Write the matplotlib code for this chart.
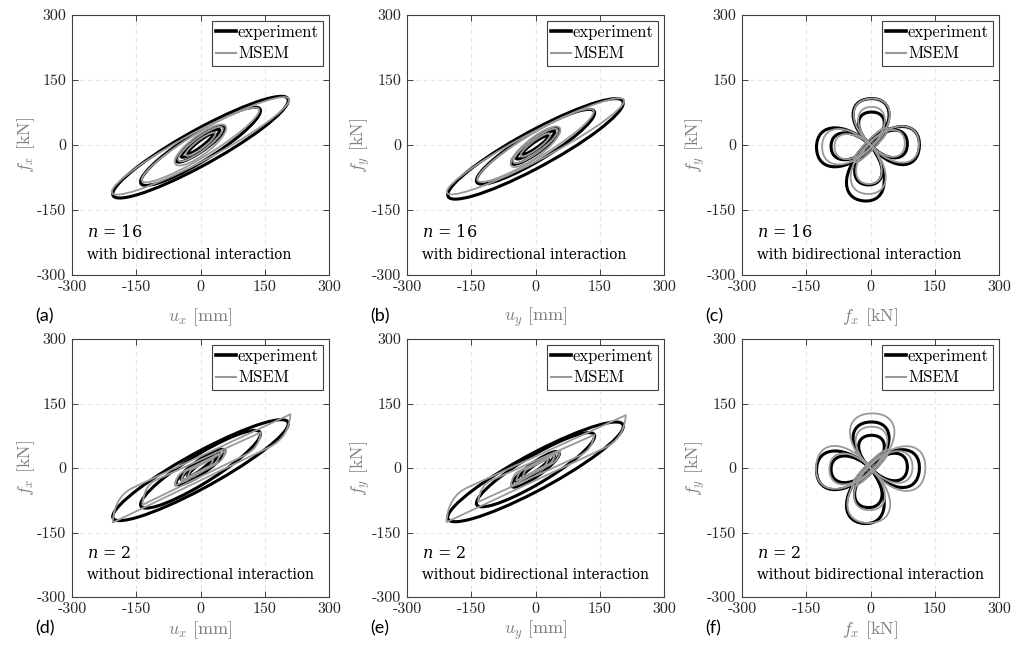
import matplotlib
matplotlib.use('Agg')
import numpy as np
import matplotlib.pyplot as plt
from matplotlib.patches import Circle, Ellipse, PathPatch
from matplotlib.path import Path
from matplotlib.transforms import Affine2D
from matplotlib.lines import Line2D

plt.rcParams['mathtext.fontset'] = 'cm'
plt.rcParams['font.family'] = 'cmr10'
plt.rcParams['axes.formatter.use_mathtext'] = True

# ---------------- data ----------------
ticks = [-300, -150, 0, 150, 300]
tick_labels = ['-300', '-150', '0', '150', '300']
panel_tags = ['(a)', '(b)', '(c)', '(d)', '(e)', '(f)']
x_labels = [r'$u_x$ [mm]', r'$u_y$ [mm]', r'$f_x$ [kN]']
y_labels = [r'$f_x$ [kN]', r'$f_y$ [kN]', r'$f_y$ [kN]']
n_labels = [r'$n$ = 16', r'$n$ = 2']
case_labels = ['with bidirectional interaction', 'without bidirectional interaction']
series_names = ['experiment', 'MSEM']

# hysteresis loops: amplitude A, peak force F, half width at zero displacement c, offset d
exp_x_A = [205, 140, 57, 45, 30]
exp_x_F = [108, 82, 37, 30, 22]
exp_x_c = [46, 38, 19, 12, 8]
exp_x_d = [-5, -3, 2, 4, 3]

exp_y_A = [205, 138, 56, 45, 30]
exp_y_F = [106, 78, 37, 30, 20]
exp_y_c = [47, 37, 19, 12, 8]
exp_y_d = [-9, -4, -3, 0, 0]

msem16_x_A = [207, 137, 60, 52, 35]
msem16_x_F = [106, 80, 39, 35, 24]
msem16_x_c = [38, 32, 27, 19, 12]
msem16_x_d = [-2, 0, 0, 2, 2]

msem16_y_A = [207, 136, 58, 52, 35]
msem16_y_F = [105, 78, 39, 35, 24]
msem16_y_c = [36, 32, 26, 19, 12]
msem16_y_d = [-3, -1, -4, -2, 0]

# MSEM n = 2 loops: negative tip, positive tip, knee of rising branch, knee of falling branch
msem2_x_tip_neg = [(-205, -127), (-136, -86), (-60, -42), (-45, -30), (-30, -22)]
msem2_x_tip_pos = [(210, 125), (141, 83), (58, 40), (45, 32), (30, 22)]
msem2_x_knee_up = [(-158, -46), (-104, -28), (-40, -8), (-30, -5), (-20, -3)]
msem2_x_knee_dn = [(160, 48), (104, 30), (38, 10), (30, 8), (20, 4)]

msem2_y_tip_neg = [(-208, -126), (-134, -79), (-58, -42), (-45, -30), (-30, -22)]
msem2_y_tip_pos = [(211, 123), (137, 77), (58, 40), (45, 32), (30, 22)]
msem2_y_knee_up = [(-160, -46), (-102, -28), (-40, -8), (-30, -5), (-20, -3)]
msem2_y_knee_dn = [(160, 46), (102, 28), (38, 10), (30, 8), (20, 4)]

# force-force petals: base, tip, width
exp_ff_base = [(-4, 4), (4, -4), (4, -4), (-4, 4), (-3, 3), (3, -3), (3, -3), (-3, 3)]
exp_ff_tip = [(114, -4), (-126, -6), (0, 107), (-16, -129), (86, 2), (-92, -3), (2, 76), (-6, -92)]
exp_ff_width = [88, 90, 84, 88, 64, 62, 60, 64]

msem16_ff_base = [(-4, 4), (4, -4), (4, -4), (-4, 4), (-3, 3), (3, -3), (3, -3), (-3, 3)]
msem16_ff_tip = [(113, 0), (-113, -4), (2, 107), (-6, -113), (80, 4), (-84, -4), (2, 88), (-4, -90)]
msem16_ff_width = [84, 82, 84, 82, 62, 58, 62, 60]

msem2_ff_base = [(-4, 4), (4, -4), (4, -4), (-4, 4), (-3, 3), (3, -3), (3, -3), (-3, 3)]
msem2_ff_tip = [(128, -4), (-127, 4), (4, 127), (-4, -128), (98, 2), (-96, -2), (2, 96), (-2, -98)]
msem2_ff_width = [104, 100, 104, 100, 74, 72, 74, 72]

# small diagonal cycles in force-force plane: length, thickness
exp_ff_diag = [(110, 18)]
msem16_ff_diag = [(110, 22)]
msem2_ff_diag = [(120, 22), (90, 14)]

# ---------------- styles ----------------
C_EXP = 'black'
C_MS = '#999999'
LW_EXP = 2.2
LW_MS = 1.3
AX_COL = '#404040'


def draw_loops(ax, A, F, c, d, color, lw, z):
    for a, f, cc, dd in zip(A, F, c, d):
        circ = Circle((0, 0), 1, fill=False, ec=color, lw=lw, zorder=z)
        tr = Affine2D(np.array([[a, 0, 0], [f, cc, dd], [0, 0, 1]], dtype=float))
        circ.set_transform(tr + ax.transData)
        ax.add_patch(circ)


def draw_lenses(ax, tn, tp, ku, kd, color, lw, z):
    for pn, pp, k1, k2 in zip(tn, tp, ku, kd):
        s_u = (pp[1] - k1[1]) / (pp[0] - k1[0])
        c1 = (pn[0] + 4, k1[1] + s_u * (pn[0] + 4 - k1[0]))
        s_d = (k2[1] - pn[1]) / (k2[0] - pn[0])
        c2 = (pp[0] - 4, k2[1] + s_d * (pp[0] - 4 - k2[0]))
        verts = [pn, c1, k1, pp, c2, k2, pn]
        codes = [Path.MOVETO, Path.CURVE3, Path.CURVE3, Path.LINETO,
                 Path.CURVE3, Path.CURVE3, Path.LINETO]
        ax.add_patch(PathPatch(Path(verts, codes), fill=False, ec=color, lw=lw,
                               zorder=z, joinstyle='round'))


def draw_petals(ax, base, tip, width, diag, color, lw, z):
    for b, t, w in zip(base, tip, width):
        b = np.array(b, float)
        t = np.array(t, float)
        R = np.linalg.norm(t - b)
        ex = (t - b) / R
        ey = np.array([-ex[1], ex[0]])
        hw = w / 2 * 1.333
        loc = [(0, 0), (0.45 * R, hw), (R, hw), (R, 0), (R, -hw), (0.45 * R, -hw), (0, 0)]
        verts = [tuple(b + px * ex + py * ey) for px, py in loc]
        codes = [Path.MOVETO] + [Path.CURVE4] * 6
        ax.add_patch(PathPatch(Path(verts, codes), fill=False, ec=color, lw=lw, zorder=z))
    for L, h in diag:
        ax.add_patch(Ellipse((0, 0), L, h, angle=45, fill=False, ec=color, lw=lw, zorder=z))


fig = plt.figure(figsize=(10.16, 6.47), dpi=100)
W_PX, H_PX = 1016, 647
col_left = [72, 407, 742]
row_top = [15, 339]
row_h = [260, 258]
ax_w = 257
xlabel_pad = [8.5, 2.0]

axes = []
for r in range(2):
    for cidx in range(3):
        ax = fig.add_axes([col_left[cidx] / W_PX, 1 - (row_top[r] + row_h[r]) / H_PX,
                           ax_w / W_PX, row_h[r] / H_PX])
        axes.append(ax)

for i, ax in enumerate(axes):
    r, cidx = divmod(i, 3)
    ax.set_xlim(-300, 300)
    ax.set_ylim(-300, 300)
    ax.set_xticks(ticks)
    ax.set_yticks(ticks)
    ax.set_xticklabels(tick_labels, fontsize=11.5)
    ax.set_yticklabels(tick_labels, fontsize=11.5)
    ax.tick_params(direction='in', length=4, width=0.7, color=AX_COL, labelcolor='#262626',
                   pad=4, top=True, right=True)
    ax.grid(True, ls=(0, (4, 3)), color='#e6e6e6', lw=0.8)
    ax.set_axisbelow(True)
    for sp in ax.spines.values():
        sp.set_color(AX_COL)
        sp.set_linewidth(0.8)
    ax.set_xlabel(x_labels[cidx], fontsize=13, color='#808080', labelpad=xlabel_pad[r])
    ax.set_ylabel(y_labels[cidx], fontsize=13, color='#808080', labelpad=0)

    # data
    if cidx == 0:
        draw_loops(ax, exp_x_A, exp_x_F, exp_x_c, exp_x_d, C_EXP, LW_EXP, 3)
        if r == 0:
            draw_loops(ax, msem16_x_A, msem16_x_F, msem16_x_c, msem16_x_d, C_MS, LW_MS, 4)
        else:
            draw_lenses(ax, msem2_x_tip_neg, msem2_x_tip_pos, msem2_x_knee_up, msem2_x_knee_dn,
                        C_MS, LW_MS, 4)
    elif cidx == 1:
        draw_loops(ax, exp_y_A, exp_y_F, exp_y_c, exp_y_d, C_EXP, LW_EXP, 3)
        if r == 0:
            draw_loops(ax, msem16_y_A, msem16_y_F, msem16_y_c, msem16_y_d, C_MS, LW_MS, 4)
        else:
            draw_lenses(ax, msem2_y_tip_neg, msem2_y_tip_pos, msem2_y_knee_up, msem2_y_knee_dn,
                        C_MS, LW_MS, 4)
    else:
        draw_petals(ax, exp_ff_base, exp_ff_tip, exp_ff_width, exp_ff_diag, C_EXP, LW_EXP, 3)
        if r == 0:
            draw_petals(ax, msem16_ff_base, msem16_ff_tip, msem16_ff_width, msem16_ff_diag,
                        C_MS, LW_MS, 4)
        else:
            draw_petals(ax, msem2_ff_base, msem2_ff_tip, msem2_ff_width, msem2_ff_diag,
                        C_MS, LW_MS, 4)

    handles = [Line2D([], [], color=C_EXP, lw=2.6), Line2D([], [], color=C_MS, lw=1.5)]
    leg = ax.legend(handles, series_names, loc='upper right', fontsize=12,
                    handlelength=1.2, handletextpad=0.1, labelspacing=0.35,
                    borderpad=0.25, borderaxespad=0.35, fancybox=False, framealpha=1,
                    edgecolor=AX_COL)
    leg.get_frame().set_linewidth(0.8)

    ax.text(0.058, 0.165 if r == 0 else 0.17, n_labels[r], transform=ax.transAxes,
            fontsize=11.5, family='DejaVu Serif', math_fontfamily='dejavuserif',
            va='center', ha='left')
    ax.text(0.058, 0.078 if r == 0 else 0.084, case_labels[r], transform=ax.transAxes,
            fontsize=9.9, family='DejaVu Serif', va='center', ha='left')

    # panel tag
    tag_y = [316, 628][r]
    fig.text((col_left[cidx] - 37) / W_PX, 1 - tag_y / H_PX, panel_tags[i],
             fontsize=13, family='Lato', va='center', ha='left')

fig.savefig('out.png', dpi=100)
